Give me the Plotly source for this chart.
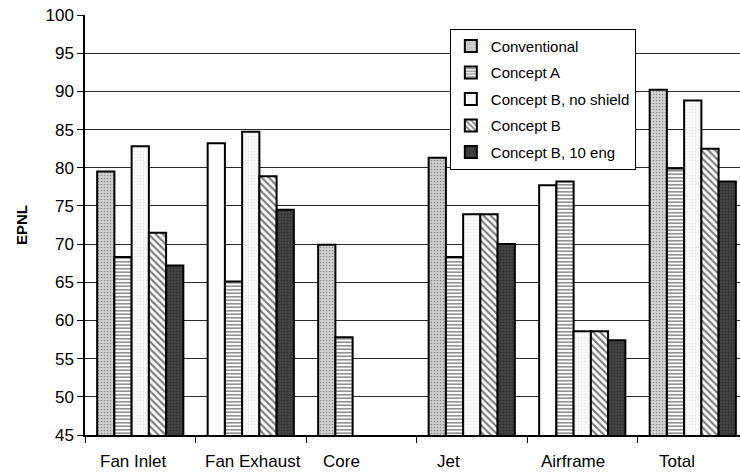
import plotly.graph_objects as go

# Noise source categories and EPNL levels per configuration
categories = ["Fan Inlet", "Fan Exhaust", "Core", "Jet", "Airframe", "Total"]
conventional = [79.5, 83.2, 69.9, 81.3, 77.7, 90.2]
concept_a = [68.3, 65.1, 57.8, 68.3, 78.2, 79.9]
concept_b_no_shield = [82.8, 84.7, None, 73.9, 58.6, 88.8]
concept_b = [71.5, 78.9, None, 73.9, 58.6, 82.5]
concept_b_10_eng = [67.2, 74.5, None, 70.0, 57.4, 78.2]
y_ticks = list(range(45, 101, 5))

FONT = "Liberation Sans, Arial, Helvetica, sans-serif"
OUTLINE = dict(color="black", width=2)

# Conventional bars are printed light-grey stippled in some groups, plain white in others
conv_fill = ["#d2d2d2", "#ffffff", "#d4d4d4", "#d0d0d0", "#ffffff", "#d6d6d6"]
conv_shape = [".", "", ".", ".", "", "."]

fig = go.Figure()
fig.add_trace(go.Bar(
    name="Conventional", x=categories, y=conventional, legendgroup="a",
    marker=dict(color=conv_fill, line=OUTLINE,
                pattern=dict(shape=conv_shape, fgcolor="#8a8a8a", size=3, solidity=0.25)),
))
fig.add_trace(go.Bar(
    name="Concept A", x=categories, y=concept_a, legendgroup="b",
    marker=dict(color="#ffffff", line=OUTLINE,
                pattern=dict(shape="-", fgcolor="#111111", bgcolor="#ffffff", size=3.5, solidity=0.45)),
))
fig.add_trace(go.Bar(
    name="Concept B, no shield", x=categories, y=concept_b_no_shield, legendgroup="c",
    marker=dict(color="#f6f6f6", line=OUTLINE,
                pattern=dict(shape=".", fgcolor="#dadada", bgcolor="#fafafa", size=3, solidity=0.2)),
))
fig.add_trace(go.Bar(
    name="Concept B", x=categories, y=concept_b, legendgroup="d",
    marker=dict(color="#ffffff", line=OUTLINE,
                pattern=dict(shape="\\", fgcolor="#000000", bgcolor="#ffffff", size=5, solidity=0.45)),
))
fig.add_trace(go.Bar(
    name="Concept B, 10 eng", x=categories, y=concept_b_10_eng, legendgroup="e",
    marker=dict(color="#3c3c3c", line=OUTLINE,
                pattern=dict(shape=".", fgcolor="#1c1c1c", bgcolor="#454545", size=3, solidity=0.35)),
))

# Category captions sit slightly left of their group centres
label_shift = [-7, 2, -20, -23, -9, -16]
for cat, dx in zip(categories, label_shift):
    fig.add_annotation(
        x=cat, xref="x", y=-0.064, yref="paper", text=cat, showarrow=False,
        xshift=dx, yanchor="middle", font=dict(family=FONT, size=17, color="black"),
    )

fig.update_layout(
    width=740, height=476,
    margin=dict(l=85, r=0, t=15, b=41),
    paper_bgcolor="white", plot_bgcolor="white",
    barmode="group", bargap=0.22, bargroupgap=0.0,
    font=dict(family=FONT, size=15, color="black"),
    legend=dict(
        x=0.557, y=0.967, xanchor="left", yanchor="top",
        bgcolor="white", bordercolor="black", borderwidth=1,
        font=dict(family=FONT, size=15, color="black"),
        tracegroupgap=4, traceorder="grouped",
    ),
    showlegend=True,
)
fig.update_xaxes(
    type="category", range=[-0.5, 5.4276], showticklabels=False,
    ticks="outside", tickson="boundaries", ticklen=6, tickcolor="black", tickwidth=1,
    showline=True, linecolor="black", linewidth=1.5, showgrid=False,
)
fig.update_yaxes(
    range=[45, 100], tickvals=y_ticks, ticks="outside", ticklen=6,
    tickcolor="black", tickwidth=1,
    showline=True, linecolor="black", linewidth=1.5,
    showgrid=True, gridcolor="#2a2a2a", gridwidth=1.2, zeroline=False,
    tickfont=dict(family=FONT, size=17, color="black"),
    title=dict(text="<b>EPNL</b>", font=dict(family=FONT, size=15, color="black"), standoff=14),
    automargin=False,
)

fig.write_html("out.html")
